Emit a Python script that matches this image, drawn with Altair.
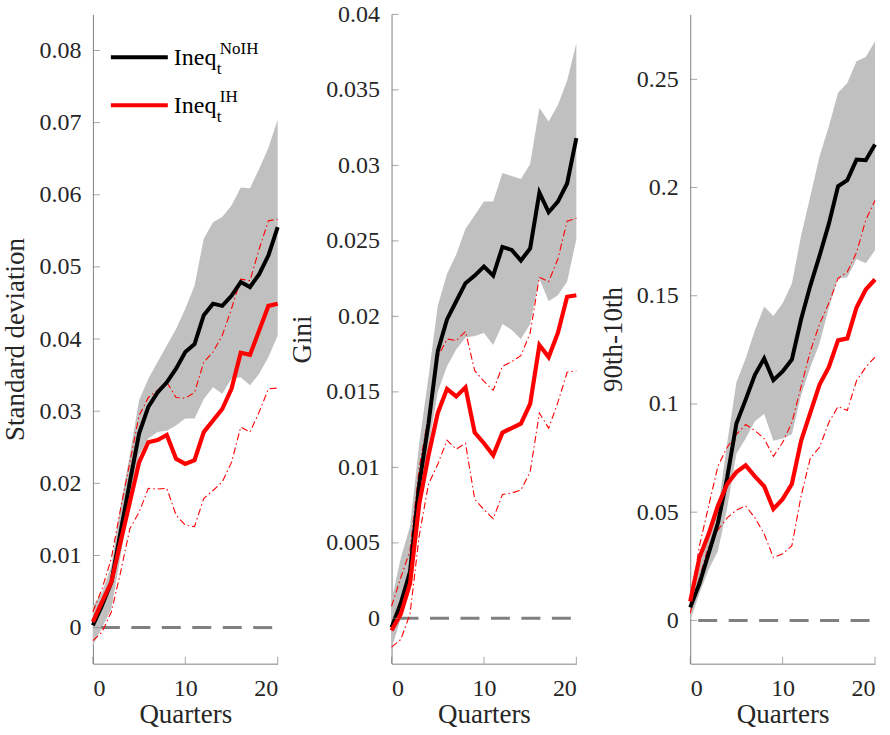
import altair as alt
import pandas as pd

quarters = list(range(21))

# Panel 1: Standard deviation
sd_noih = [0.0003, 0.0031, 0.0063, 0.0133, 0.0202, 0.0269, 0.0306, 0.0326, 0.0340, 0.0359, 0.0382,
           0.0393, 0.0433, 0.0449, 0.0446, 0.0460, 0.0479, 0.0472, 0.0490, 0.0516, 0.0555]
sd_ih = [0.0008, 0.0036, 0.0063, 0.0119, 0.0174, 0.0229, 0.0257, 0.0260, 0.0267, 0.0234, 0.0227,
         0.0232, 0.0271, 0.0287, 0.0303, 0.0331, 0.0381, 0.0378, 0.0412, 0.0446, 0.0449]
sd_noih_hi = [0.0030, 0.0049, 0.0086, 0.0170, 0.0240, 0.0315, 0.0345, 0.0368, 0.0391, 0.0414, 0.0442,
              0.0474, 0.0539, 0.0562, 0.0569, 0.0585, 0.0610, 0.0609, 0.0636, 0.0665, 0.0704]
sd_noih_lo = [-0.0025, 0.0000, 0.0026, 0.0100, 0.0174, 0.0239, 0.0262, 0.0271, 0.0273, 0.0280, 0.0290,
              0.0290, 0.0317, 0.0333, 0.0324, 0.0345, 0.0347, 0.0336, 0.0352, 0.0375, 0.0405]
sd_ih_hi = [0.0022, 0.0054, 0.0096, 0.0165, 0.0229, 0.0294, 0.0319, 0.0329, 0.0340, 0.0319, 0.0318,
            0.0326, 0.0368, 0.0382, 0.0405, 0.0442, 0.0483, 0.0481, 0.0525, 0.0564, 0.0566]
sd_ih_lo = [-0.0018, -0.0006, 0.0022, 0.0077, 0.0137, 0.0160, 0.0193, 0.0192, 0.0193, 0.0156, 0.0142,
            0.0140, 0.0179, 0.0190, 0.0202, 0.0229, 0.0278, 0.0271, 0.0299, 0.0331, 0.0332]

# Panel 2: Gini
gini_noih = [-0.0006, 0.0010, 0.0031, 0.0089, 0.0129, 0.0177, 0.0198, 0.0210, 0.0222, 0.0227, 0.0233,
             0.0227, 0.0246, 0.0244, 0.0237, 0.0245, 0.0282, 0.0269, 0.0276, 0.0288, 0.0318]
gini_ih = [-0.0008, 0.0003, 0.0023, 0.0076, 0.0108, 0.0136, 0.0152, 0.0147, 0.0153, 0.0123, 0.0116,
           0.0108, 0.0123, 0.0126, 0.0129, 0.0142, 0.0181, 0.0173, 0.0189, 0.0213, 0.0214]
gini_noih_hi = [0.0012, 0.0040, 0.0061, 0.0116, 0.0160, 0.0207, 0.0228, 0.0241, 0.0258, 0.0267, 0.0276,
                0.0276, 0.0295, 0.0293, 0.0291, 0.0301, 0.0338, 0.0329, 0.0340, 0.0356, 0.0381]
gini_noih_lo = [-0.0020, 0.0000, 0.0022, 0.0074, 0.0113, 0.0150, 0.0167, 0.0178, 0.0186, 0.0187, 0.0189,
                0.0181, 0.0195, 0.0191, 0.0185, 0.0195, 0.0225, 0.0210, 0.0214, 0.0223, 0.0251]
gini_ih_hi = [0.0008, 0.0027, 0.0045, 0.0100, 0.0134, 0.0173, 0.0185, 0.0184, 0.0190, 0.0164, 0.0157,
              0.0151, 0.0167, 0.0170, 0.0174, 0.0189, 0.0226, 0.0223, 0.0238, 0.0263, 0.0265]
gini_ih_lo = [-0.0019, -0.0014, 0.0003, 0.0055, 0.0089, 0.0102, 0.0118, 0.0112, 0.0116, 0.0079, 0.0072,
              0.0066, 0.0082, 0.0083, 0.0085, 0.0097, 0.0136, 0.0126, 0.0143, 0.0163, 0.0164]

# Panel 3: 90th-10th
p9010_noih = [0.0060, 0.0170, 0.0310, 0.0450, 0.0660, 0.0910, 0.1020, 0.1135, 0.1210, 0.1110, 0.1150,
              0.1205, 0.1391, 0.1547, 0.1685, 0.1832, 0.2006, 0.2034, 0.2129, 0.2126, 0.2199]
p9010_ih = [0.0088, 0.0290, 0.0400, 0.0530, 0.0630, 0.0685, 0.0716, 0.0665, 0.0620, 0.0515, 0.0560,
            0.0630, 0.0830, 0.0960, 0.1090, 0.1170, 0.1294, 0.1303, 0.1446, 0.1529, 0.1575]
p9010_noih_hi = [0.0100, 0.0250, 0.0400, 0.0510, 0.0820, 0.1100, 0.1210, 0.1340, 0.1450, 0.1406, 0.1465,
                 0.1557, 0.1777, 0.1960, 0.2144, 0.2282, 0.2438, 0.2483, 0.2584, 0.2603, 0.2676]
p9010_noih_lo = [0.0000, 0.0125, 0.0235, 0.0320, 0.0520, 0.0770, 0.0840, 0.0920, 0.0954, 0.0830, 0.0840,
                 0.0860, 0.1040, 0.1170, 0.1280, 0.1445, 0.1580, 0.1586, 0.1670, 0.1650, 0.1710]
p9010_ih_hi = [0.0080, 0.0345, 0.0530, 0.0712, 0.0800, 0.0860, 0.0905, 0.0877, 0.0840, 0.0758, 0.0822,
               0.0914, 0.1080, 0.1244, 0.1370, 0.1465, 0.1580, 0.1610, 0.1700, 0.1850, 0.1940]
p9010_ih_lo = [0.0033, 0.0198, 0.0345, 0.0418, 0.0474, 0.0510, 0.0529, 0.0474, 0.0400, 0.0290, 0.0308,
               0.0345, 0.0575, 0.0750, 0.0800, 0.0914, 0.0988, 0.0970, 0.1107, 0.1170, 0.1217]

x_ticks = [0, 10, 20]
sd_ticks = [0, 0.01, 0.02, 0.03, 0.04, 0.05, 0.06, 0.07, 0.08]
gini_ticks = [0, 0.005, 0.01, 0.015, 0.02, 0.025, 0.03, 0.035, 0.04]
p9010_ticks = [0, 0.05, 0.1, 0.15, 0.2, 0.25]

FONT = "Liberation Serif"
AXIS_COLOR = "#808080"
TEXT_COLOR = "#262626"
W, H = 185, 650


def panel(noih, ih, noih_lo, noih_hi, ih_lo, ih_hi, ydomain, yticks, ytitle, legend=False):
    df = pd.DataFrame({"q": quarters, "noih": noih, "ih": ih, "nlo": noih_lo, "nhi": noih_hi,
                       "ilo": ih_lo, "ihi": ih_hi})
    xscale = alt.Scale(domain=[0, 20], nice=False, zero=False)
    yscale = alt.Scale(domain=ydomain, nice=False, zero=False)
    common = dict(labelFont=FONT, titleFont=FONT, labelFontSize=24, titleFontSize=27,
                  labelColor=TEXT_COLOR, titleColor=TEXT_COLOR, titleFontWeight="normal",
                  domainColor=AXIS_COLOR, grid=False, ticks=False, tickSize=0)
    xaxis = alt.Axis(values=x_ticks, title="Quarters", format="d", labelPadding=13,
                     titlePadding=1, **common)
    yaxis = alt.Axis(values=yticks, title=ytitle, format="~g", labelPadding=12,
                     titlePadding=9, **common)

    def X(f):
        return alt.X(f, type="quantitative", scale=xscale, axis=xaxis)

    def Y(f):
        return alt.Y(f, type="quantitative", scale=yscale, axis=yaxis)

    base = alt.Chart(df)
    band = base.mark_area(color="#c0c0c0", opacity=1, interpolate="linear").encode(
        x=X("q"), y=Y("nlo"), y2="nhi")
    zero = alt.Chart(pd.DataFrame({"z": [0]})).mark_rule(
        color=AXIS_COLOR, strokeWidth=3, strokeDash=[19, 11.5], strokeDashOffset=22.5
    ).encode(x=alt.datum(0, scale=xscale, axis=xaxis, type="quantitative"),
             x2=alt.datum(20), y=alt.datum(0, scale=yscale, axis=yaxis, type="quantitative"))
    dd = dict(color="#ff0000", strokeWidth=1.1, strokeDash=[7, 3, 1.5, 3])
    ihi = base.mark_line(**dd).encode(x=X("q"), y=Y("ihi"))
    ilo = base.mark_line(**dd).encode(x=X("q"), y=Y("ilo"))
    black = base.mark_line(color="#000000", strokeWidth=4).encode(x=X("q"), y=Y("noih"))
    red = base.mark_line(color="#ff0000", strokeWidth=4.2).encode(x=X("q"), y=Y("ih"))
    yt = alt.Chart(pd.DataFrame({"v": yticks})).mark_tick(
        orient="horizontal", color=AXIS_COLOR, thickness=1, size=7
    ).encode(y=Y("v"), x=alt.value(3.5))
    xt = alt.Chart(pd.DataFrame({"v": x_ticks})).mark_tick(
        orient="vertical", color=AXIS_COLOR, thickness=1, size=7
    ).encode(x=X("v"), y=alt.value(H - 3.5))
    layers = [band, zero, ihi, ilo, black, red, yt, xt]
    if legend:
        one = alt.Chart(pd.DataFrame({"a": [0]}))
        layers += [
            one.mark_rule(color="#000000", strokeWidth=4).encode(
                x=alt.value(18), x2=alt.value(75), y=alt.value(43)),
            one.mark_rule(color="#ff0000", strokeWidth=4).encode(
                x=alt.value(18), x2=alt.value(75), y=alt.value(91)),
        ]
        txt = [("Ineq", 81, 51, 24), ("t", 124, 60, 17), ("NoIH", 127, 40, 17),
               ("Ineq", 81, 99, 24), ("t", 124, 108, 17), ("IH", 127, 88, 17)]
        for s, xx, yy, fs in txt:
            layers.append(one.mark_text(align="left", baseline="alphabetic", font=FONT,
                                        fontSize=fs, color="#000000").encode(
                x=alt.value(xx), y=alt.value(yy), text=alt.value(s)))
    return alt.layer(*layers).properties(width=W, height=H)


p1 = panel(sd_noih, sd_ih, sd_noih_lo, sd_noih_hi, sd_ih_lo, sd_ih_hi,
           [-0.005, 0.085], sd_ticks, "Standard deviation", legend=True)
p2 = panel(gini_noih, gini_ih, gini_noih_lo, gini_noih_hi, gini_ih_lo, gini_ih_hi,
           [-0.003, 0.04], gini_ticks, "Gini")
p3 = panel(p9010_noih, p9010_ih, p9010_noih_lo, p9010_noih_hi, p9010_ih_lo, p9010_ih_hi,
           [-0.02, 0.28], p9010_ticks, "90th-10th")

chart = alt.hconcat(p1, p2, p3, spacing=114, bounds="flush").properties(
    padding={"left": 2, "top": 2, "right": 6, "bottom": 0}
).configure(font=FONT).configure_view(stroke=None)

chart.save("out.html", embed_options={"renderer": "svg", "actions": False})
